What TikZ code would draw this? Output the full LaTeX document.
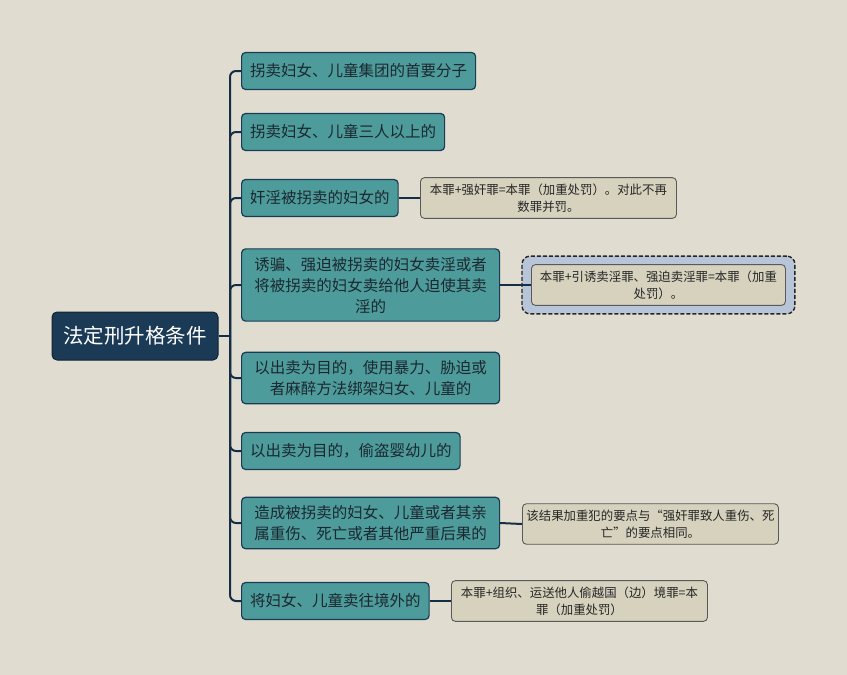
\documentclass[tikz,border=0pt]{standalone}
\usepackage{fontspec}
\setmainfont{Noto Sans CJK SC}
\usetikzlibrary{fit,backgrounds}
\definecolor{paper}{RGB}{224,221,208}
\definecolor{navy}{RGB}{26,58,86}
\definecolor{teal2}{RGB}{77,155,155}
\definecolor{notefill}{RGB}{214,210,190}
\definecolor{framefill}{RGB}{184,196,216}
\definecolor{ink}{RGB}{28,40,48}

\begin{document}
\begin{tikzpicture}[x=1pt,y=-1pt,
  root/.style={draw=navy!60!black,fill=navy,text=white,rounded corners=5pt,line width=1pt,
    minimum width=166pt,minimum height=48pt,font=\fontsize{20.5}{24}\selectfont},
  topic/.style={draw=navy,fill=teal2,text=ink,rounded corners=4pt,line width=1.2pt,
    anchor=west,inner xsep=8.5pt,inner ysep=8pt,minimum height=37pt,align=center,
    font=\fontsize{15.5}{21}\selectfont},
  note/.style={draw=black!65,fill=notefill,text=black!85,rounded corners=4pt,line width=0.9pt,
    anchor=west,minimum width=256pt,inner ysep=6pt,align=center,
    font=\fontsize{12.4}{17}\selectfont},
  dashbox/.style={draw=black!85,fill=framefill,rounded corners=8pt,line width=1.4pt,
    dash pattern=on 4pt off 2pt,inner xsep=9pt,inner ysep=8pt},
  link/.style={draw=navy!80!black,line width=2pt,rounded corners=6pt}]
  \useasboundingbox (0,0) rectangle (847,675);

  % root
  \node[root] (root) at (135,336) {法定刑升格条件};
  \coordinate (hub) at (230,336);

  % topics
  \node[topic] (c1) at (241,71) {拐卖妇女、儿童集团的首要分子};
  \node[topic] (c2) at (241,132) {拐卖妇女、儿童三人以上的};
  \node[topic] (c3) at (241,198) {奸淫被拐卖的妇女的};
  \node[topic,text width=241pt] (c4) at (241,285) {诱骗、强迫被拐卖的妇女卖淫或者\\将被拐卖的妇女卖给他人迫使其卖\\淫的};
  \node[topic,text width=241pt] (c5) at (241,378) {以出卖为目的，使用暴力、胁迫或\\者麻醉方法绑架妇女、儿童的};
  \node[topic] (c6) at (241,451) {以出卖为目的，偷盗婴幼儿的};
  \node[topic,text width=241pt] (c7) at (241,523) {造成被拐卖的妇女、儿童或者其亲\\属重伤、死亡或者其他严重后果的};
  \node[topic] (c8) at (241,601) {将妇女、儿童卖往境外的};

  % notes
  \node[note] (n3) at (420,198) {本罪+强奸罪=本罪（加重处罚）。对此不再\\数罪并罚。};
  \node[note,minimum width=254pt] (n4) at (531,285) {本罪+引诱卖淫罪、强迫卖淫罪=本罪（加重\\处罚）。};
  \node[note] (n7) at (522,524) {该结果加重犯的要点与“强奸罪致人重伤、死\\亡”的要点相同。};
  \node[note] (n8) at (451,601) {本罪+组织、运送他人偷越国（边）境罪=本\\罪（加重处罚）};
  \begin{scope}[on background layer]
    \fill[paper] (0,0) rectangle (847,675);
    \node[dashbox,fit=(n4)] (f4) {};
  \end{scope}

  % links
  \draw[link] (root.east) -- (hub);
  \foreach \c in {c1,c2,c3,c4,c5,c6,c7,c8}
    \draw[link] (hub) |- (\c.west);
  \draw[link] (c3.east) -- (n3.west);
  \draw[link] (c4.east) -- (n4.west);
  \draw[link] (c7.east) -- (n7.west);
  \draw[link] (c8.east) -- (n8.west);
\end{tikzpicture}
\end{document}
